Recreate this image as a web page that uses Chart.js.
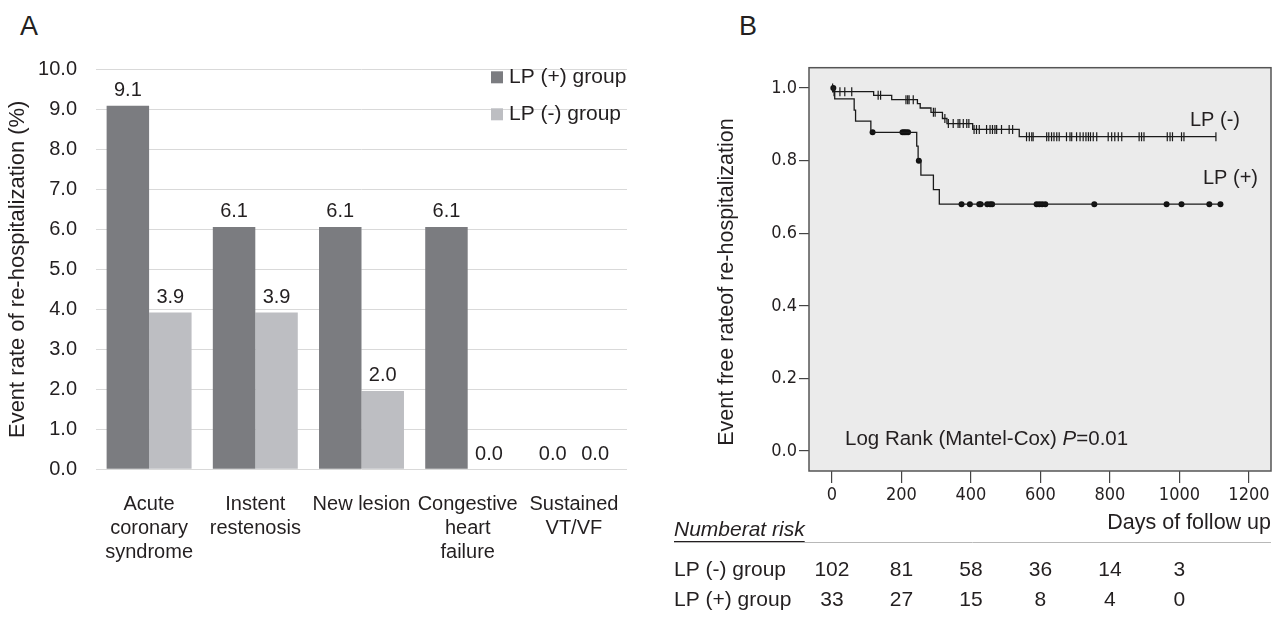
<!DOCTYPE html>
<html>
<head>
<meta charset="utf-8">
<script src="https://cdn.jsdelivr.net/npm/chart.js@4.4.1/dist/chart.umd.min.js"></script>
<style>
  html, body { margin: 0; padding: 0; background: #fff; }
  body { width: 1277px; height: 619px; position: relative; overflow: hidden;
         font-family: 'Liberation Sans', Arial, sans-serif; color: #231f20; }
  .letter { position: absolute; font-size: 27px; line-height: 27px; }
  #wrapA { position: absolute; left: 0; top: 0; width: 660px; height: 619px; }
  #wrapB { position: absolute; left: 660px; top: 0; width: 617px; height: 619px; }
</style>
</head>
<body>
<div class="letter" style="left:20px;top:13px">A</div>
<div class="letter" style="left:739px;top:13px">B</div>
<div id="wrapA"><canvas id="chartA" width="660" height="619"></canvas></div>
<div id="wrapB"><canvas id="chartB" width="617" height="619"></canvas></div>
<script>
const FONT = "'Liberation Sans', Arial, sans-serif";
const NARROW = "'Liberation Sans Narrow', 'DejaVu Sans Condensed', 'Liberation Sans', sans-serif";
const INK = '#231f20';

// ---- Panel A: event rates (%) ----
const categories = [
  ['Acute', 'coronary', 'syndrome'],
  ['Instent', 'restenosis'],
  'New lesion',
  ['Congestive', 'heart', 'failure'],
  ['Sustained', 'VT/VF'],
];
const lpPosRate = [9.09, 6.06, 6.06, 6.06, 0];
const lpNegRate = [3.92, 3.92, 1.96, 0, 0];
const seriesNames = ['LP (+) group', 'LP (-) group'];
const rateTicks = [0, 1, 2, 3, 4, 5, 6, 7, 8, 9, 10];

// ---- Panel B: Kaplan-Meier, event free rate ----
const negTimes = [0, 5, 120, 172, 246, 254, 285, 318, 331, 405, 539, 1105];
const negSurv  = [1.0, 0.990, 0.980, 0.968, 0.957, 0.945, 0.933, 0.916, 0.902, 0.886, 0.866, 0.866];
const negCensored = [2, 6, 23, 37, 57, 133, 140, 213, 218, 222, 234, 292, 297, 325, 335, 349, 363,
  368, 378, 388, 394, 409, 416, 424, 445, 455, 462, 469, 474, 488, 510, 520, 560, 568, 575, 579,
  618, 624, 632, 639, 647, 654, 675, 685, 690, 704, 714, 723, 731, 738, 744, 752, 762, 795, 805,
  814, 824, 834, 884, 891, 898, 965, 973, 980, 1006, 1013, 1105];

const posTimes = [0, 8, 64, 68, 112, 244, 248, 256, 292, 309, 1118];
const posSurv  = [1.0, 0.970, 0.939, 0.909, 0.878, 0.840, 0.800, 0.760, 0.720, 0.680, 0.680];
const posCensored = [4, 117, 203, 208, 213, 219, 250, 373, 397, 424, 428, 447, 455, 461,
  589, 597, 605, 614, 755, 963, 1006, 1086, 1118];

const dayTicks = [0, 200, 400, 600, 800, 1000, 1200];
const survTicks = [0, 0.2, 0.4, 0.6, 0.8, 1.0];
const riskDays = [0, 200, 400, 600, 800, 1000];
const riskNeg = [102, 81, 58, 36, 14, 3];
const riskPos = [33, 27, 15, 8, 4, 0];

// curve level at time t (for placing censor marks on the curve)
function levelAt(times, surv, t) {
  let v = surv[0];
  for (let i = 0; i < times.length; i++) if (times[i] <= t) v = surv[i];
  return v;
}
const curve = (times, surv) => times.map((t, i) => ({ x: t, y: surv[i] }));
const marks = (cens, times, surv) => cens.map(t => ({ x: t, y: levelAt(times, surv, t) }));

// ---------- chart A ----------
const barValueLabels = {
  id: 'barValueLabels',
  afterDatasetsDraw(chart) {
    const ctx = chart.ctx;
    ctx.save();
    ctx.font = `20px ${FONT}`;
    ctx.fillStyle = INK;
    ctx.textAlign = 'center';
    ctx.textBaseline = 'middle';
    chart.data.datasets.forEach((ds, i) => {
      chart.getDatasetMeta(i).data.forEach((bar, j) => {
        ctx.fillText(ds.data[j].toFixed(1), bar.x, bar.y - 15);
      });
    });
    ctx.restore();
  }
};

const legendA = {
  id: 'legendA',
  afterDraw(chart) {
    const ctx = chart.ctx, a = chart.chartArea;
    ctx.save();
    ctx.font = `21px ${FONT}`;
    ctx.textBaseline = 'middle';
    ctx.textAlign = 'left';
    chart.data.datasets.forEach((ds, i) => {
      const x = a.right - 136, y = a.top + 2 + i * 37;
      ctx.fillStyle = ds.backgroundColor;
      ctx.fillRect(x, y, 12, 12);
      ctx.fillStyle = INK;
      ctx.fillText(ds.label, x + 18, y + 6);
    });
    ctx.restore();
  }
};

new Chart(document.getElementById('chartA'), {
  type: 'bar',
  data: {
    labels: categories,
    datasets: [
      { label: seriesNames[0], data: lpPosRate, backgroundColor: '#7b7c80' },
      { label: seriesNames[1], data: lpNegRate, backgroundColor: '#bdbec2' },
    ],
  },
  options: {
    responsive: false,
    animation: false,
    events: [],
    layout: { padding: { top: 69.3, right: 33, bottom: 0, left: 0 } },
    datasets: { bar: { categoryPercentage: 0.8, barPercentage: 1.0 } },
    plugins: { legend: { display: false }, tooltip: { enabled: false } },
    scales: {
      x: {
        grid: { display: false },
        border: { display: false },
        ticks: { color: INK, font: { family: FONT, size: 20, lineHeight: 1.2 }, padding: 15,
                 maxRotation: 0, minRotation: 0, autoSkip: false },
        afterFit: s => { s.height = 149.7; },
      },
      y: {
        min: 0, max: 10,
        afterBuildTicks: s => { s.ticks = rateTicks.map(v => ({ value: v })); },
        grid: { color: '#d9d9d9', lineWidth: 1, drawTicks: false },
        border: { display: false },
        ticks: { color: INK, font: { family: FONT, size: 20 }, padding: 19,
                 callback: v => Number(v).toFixed(1) },
        title: { display: true, text: 'Event rate of re-hospitalization (%)', color: INK,
                 font: { family: FONT, size: 22 }, padding: { top: 5 } },
        afterFit: s => { s.width = 96; },
      },
    },
  },
  plugins: [barValueLabels, legendA],
});

// ---------- chart B ----------
const kmFrame = {
  id: 'kmFrame',
  beforeDatasetsDraw(chart) {
    const { ctx, chartArea: a } = chart;
    ctx.save();
    ctx.fillStyle = '#ebebeb';
    ctx.fillRect(a.left, a.top, a.right - a.left, a.bottom - a.top);
    ctx.restore();
  },
  afterDatasetsDraw(chart) {
    const { ctx, chartArea: a } = chart;
    ctx.save();
    ctx.strokeStyle = '#555';
    ctx.lineWidth = 1.5;
    ctx.strokeRect(a.left, a.top, a.right - a.left, a.bottom - a.top);
    ctx.restore();
  }
};

const kmText = {
  id: 'kmText',
  afterDraw(chart) {
    const { ctx, chartArea: a } = chart;
    const xs = chart.scales.x;
    ctx.save();
    ctx.fillStyle = INK;
    ctx.textBaseline = 'middle';
    ctx.textAlign = 'left';

    // y axis title (sits a little below the axis middle in the original)
    ctx.save();
    ctx.translate(67, 282);
    ctx.rotate(-Math.PI / 2);
    ctx.textAlign = 'center';
    ctx.font = `21.5px ${FONT}`;
    ctx.fillText('Event free rateof re-hospitalization', 0, 0);
    ctx.restore();

    // curve labels
    ctx.font = `20px ${FONT}`;
    ctx.fillText('LP (-)', a.left + 381, 120);
    ctx.fillText('LP (+)', a.left + 394, 178);

    // log rank
    let x = a.left + 36;
    const y = 439;
    const parts = [['Log Rank (Mantel-Cox) ', ''], ['P', 'italic '], ['=0.01', '']];
    parts.forEach(([t, st]) => {
      ctx.font = `${st}20.5px ${FONT}`;
      ctx.fillText(t, x, y);
      x += ctx.measureText(t).width;
    });

    // number at risk table
    ctx.font = `italic 21px ${FONT}`;
    const head = 'Numberat risk';
    ctx.fillText(head, 14, 530);
    const hw = ctx.measureText(head).width;
    ctx.strokeStyle = '#b8b8b8';
    ctx.lineWidth = 1;
    ctx.beginPath(); ctx.moveTo(14, 542.5); ctx.lineTo(a.right, 542.5); ctx.stroke();
    ctx.strokeStyle = INK;
    ctx.beginPath(); ctx.moveTo(14, 541.5); ctx.lineTo(14 + hw, 541.5); ctx.stroke();

    ctx.font = `21px ${FONT}`;
    ctx.fillText('LP (-) group', 14, 570);
    ctx.fillText('LP (+) group', 14, 600);
    ctx.textAlign = 'center';
    riskDays.forEach((d, i) => {
      const px = xs.getPixelForValue(d);
      ctx.fillText(String(riskNeg[i]), px, 570);
      ctx.fillText(String(riskPos[i]), px, 600);
    });
    ctx.restore();
  }
};

const LINE = '#1a1a1a';
new Chart(document.getElementById('chartB'), {
  type: 'line',
  data: {
    datasets: [
      { label: 'LP (-)', data: curve(negTimes, negSurv), stepped: true, borderColor: LINE,
        borderWidth: 1.3, pointRadius: 0, fill: false },
      { label: 'LP (+)', data: curve(posTimes, posSurv), stepped: true, borderColor: LINE,
        borderWidth: 1.3, pointRadius: 0, fill: false },
      { label: 'LP (-) censored', data: marks(negCensored, negTimes, negSurv), showLine: false,
        pointStyle: 'line', pointRotation: 90, pointRadius: 4.5, pointBorderWidth: 1.2,
        pointBorderColor: LINE, pointBackgroundColor: LINE },
      { label: 'LP (+) censored', data: marks(posCensored, posTimes, posSurv), showLine: false,
        pointStyle: 'circle', pointRadius: 3, pointBorderWidth: 0,
        pointBackgroundColor: '#111', pointBorderColor: '#111' },
    ],
  },
  options: {
    responsive: false,
    animation: false,
    events: [],
    layout: { padding: { top: 67.7, right: 6, bottom: 79.4, left: 50 } },
    plugins: { legend: { display: false }, tooltip: { enabled: false } },
    scales: {
      x: {
        type: 'linear', min: -66, max: 1263.5,
        afterBuildTicks: s => { s.ticks = dayTicks.map(v => ({ value: v })); },
        grid: { drawOnChartArea: false, drawTicks: true, tickLength: 12, color: '#444', lineWidth: 1.2 },
        border: { display: false },
        ticks: { color: INK, font: { family: NARROW, size: 18 }, padding: 2, maxRotation: 0,
                 autoSkip: false, callback: v => String(v) },
        title: { display: true, text: 'Days of follow up', align: 'end', color: INK,
                 font: { family: FONT, size: 21.5 }, padding: { top: 0, bottom: 4 } },
        afterFit: s => { s.height = 68.6; },
      },
      y: {
        type: 'linear', min: -0.055, max: 1.056,
        afterBuildTicks: s => { s.ticks = survTicks.map(v => ({ value: v })); },
        grid: { drawOnChartArea: false, drawTicks: true, tickLength: 10, color: '#444', lineWidth: 1.2 },
        border: { display: false },
        ticks: { color: INK, font: { family: NARROW, size: 18 }, padding: 2,
                 callback: v => Number(v).toFixed(1) },
        title: { display: false },
        afterFit: s => { s.width = 99; },
      },
    },
  },
  plugins: [kmFrame, kmText],
});
</script>
</body>
</html>
